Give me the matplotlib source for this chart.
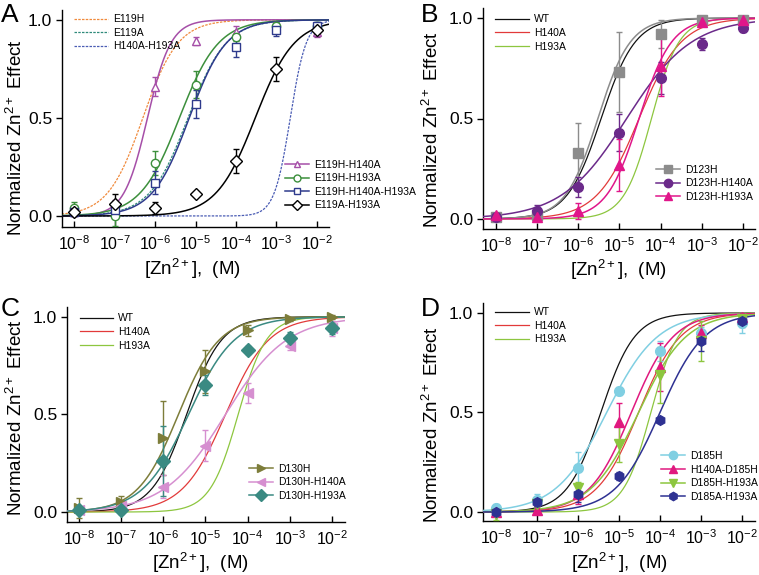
import numpy as np
import matplotlib
matplotlib.use("Agg")
import matplotlib.pyplot as plt
from matplotlib.lines import Line2D

plt.rcParams['font.family'] = ['Liberation Sans', 'DejaVu Sans']
plt.rcParams['mathtext.fontset'] = 'custom'
plt.rcParams['mathtext.rm'] = 'Liberation Sans'
plt.rcParams['mathtext.it'] = 'Liberation Sans:italic'
plt.rcParams['mathtext.bf'] = 'Liberation Sans:bold'

# ---------------- data ----------------
conc_exp = [-8, -7, -6, -5, -4, -3, -2]          # log10 [Zn2+] (M)
tick_labels = [r'10$^{-8}$', r'10$^{-7}$', r'10$^{-6}$', r'10$^{-5}$',
               r'10$^{-4}$', r'10$^{-3}$', r'10$^{-2}$']

# Reference Hill fits (EC50 in M, Hill coefficient)
refA_names = ['E119H', 'E119A', 'H140A-H193A']
refA_ec50 = [5e-7, 6.5e-6, 2.2e-3]
refA_n = [1.0, 0.92, 2.2]
refA_colors = ['#f08a3c', '#2f8a7a', '#4a5cb4']

refWT_names = ['WT', 'H140A', 'H193A']
refWT_ec50 = [3.6e-6, 3.0e-5, 6.0e-5]
refWT_n = [1.05, 0.85, 1.3]
refWT_colors = ['#111111', '#e23a3a', '#8dc63f']

# Panel A
A_names = ['E119H-H140A', 'E119H-H193A', 'E119H-H140A-H193A', 'E119A-H193A']
A_y = [[0.02, 0.05, 0.66, 0.89, 0.94, 0.97, 0.94],
       [0.04, 0.00, 0.27, 0.67, 0.91, 0.97, 0.97],
       [0.02, 0.03, 0.17, 0.57, 0.86, 0.95, 0.97],
       [0.02, 0.06, 0.04, 0.11, 0.28, 0.75, 0.95]]
A_err = [[0.02, 0.03, 0.05, 0.02, 0.03, 0.02, 0.03],
         [0.03, 0.05, 0.06, 0.07, 0.02, 0.02, 0.02],
         [0.02, 0.03, 0.06, 0.07, 0.05, 0.03, 0.02],
         [0.01, 0.05, 0.03, 0.01, 0.06, 0.06, 0.03]]
A_ec50 = [6.5e-7, 4.0e-6, 7.0e-6, 3.0e-4]
A_n = [1.5, 0.9, 0.95, 0.9]
A_colors = ['#a64fa8', '#3c8f3c', '#2e3a8c', '#000000']
A_markers = ['^', 'o', 's', 'D']

# Panel B
B_names = ['D123H', 'D123H-H140A', 'D123H-H193A']
B_y = [[0.01, 0.02, 0.33, 0.73, 0.92, 0.99, 0.99],
       [0.01, 0.04, 0.16, 0.43, 0.70, 0.87, 0.95],
       [0.02, 0.01, 0.04, 0.27, 0.76, 0.98, 0.99]]
B_err = [[0.01, 0.02, 0.15, 0.20, 0.07, 0.01, 0.01],
         [0.01, 0.03, 0.05, 0.09, 0.08, 0.03, 0.02],
         [0.01, 0.02, 0.04, 0.13, 0.15, 0.01, 0.01]]
B_ec50 = [3.0e-6, 1.5e-5, 3.0e-5]
B_n = [1.1, 0.55, 1.1]
B_colors = ['#8c8c8c', '#6b2a8a', '#e0168a']
B_markers = ['s', 'o', '^']

# Panel C
C_names = ['D130H', 'D130H-H140A', 'D130H-H193A']
C_y = [[0.02, 0.05, 0.38, 0.72, 0.93, 0.99, 1.00],
       [0.01, 0.03, 0.13, 0.34, 0.61, 0.85, 0.94],
       [0.01, 0.01, 0.26, 0.65, 0.83, 0.89, 0.94]]
C_err = [[0.05, 0.03, 0.19, 0.11, 0.03, 0.01, 0.01],
         [0.01, 0.02, 0.06, 0.08, 0.05, 0.02, 0.04],
         [0.01, 0.02, 0.18, 0.05, 0.02, 0.03, 0.03]]
C_ec50 = [2.3e-6, 3.0e-5, 4.0e-6]
C_n = [0.9, 0.6, 0.8]
C_colors = ['#7d7d3a', '#d68fd0', '#3a8a82']
C_markers = ['>', '<', 'D']

# Panel D
D_names = ['D185H', 'H140A-D185H', 'D185H-H193A', 'D185A-H193A']
D_y = [[0.02, 0.06, 0.22, 0.61, 0.81, 0.90, 0.95],
       [0.00, 0.01, 0.09, 0.45, 0.73, 0.90, 0.98],
       [-0.01, 0.04, 0.12, 0.34, 0.69, 0.86, 0.97],
       [0.00, 0.05, 0.09, 0.18, 0.46, 0.86, 0.96]]
D_err = [[0.02, 0.03, 0.08, 0.02, 0.05, 0.03, 0.05],
         [0.01, 0.02, 0.05, 0.10, 0.12, 0.04, 0.02],
         [0.03, 0.02, 0.03, 0.09, 0.14, 0.10, 0.02],
         [0.01, 0.02, 0.04, 0.02, 0.01, 0.05, 0.03]]
D_ec50 = [5.0e-6, 2.0e-5, 3.0e-5, 1.0e-4]
D_n = [0.7, 0.85, 0.75, 0.8]
D_colors = ['#80cfe2', '#e0197f', '#8dc63f', '#2e3192']
D_markers = ['o', '^', 'v', 'h']

# ---------------- figure ----------------
W, H = 759, 575
fig = plt.figure(figsize=(W / 100, H / 100), dpi=100)


def fx(px):
    return px / W


def fy(py):
    return 1 - py / H


def hill(x, ec50, n):
    return 1.0 / (1.0 + (ec50 / x) ** n)


panels = {
    'A': dict(box=(62, 10, 329, 227), xl=(-8.3, -1.7), yl=(-0.056, 1.05),
              letter=(1, 3), ylab=(16, 138), xlab=(192, 269)),
    'B': dict(box=(483, 8, 755, 229), xl=(-8.31, -1.71), yl=(-0.05, 1.05),
              letter=(421, 3), ylab=(432, 130), xlab=(618, 270)),
    'C': dict(box=(67, 307, 345, 522), xl=(-8.28, -1.69), yl=(-0.051, 1.05),
              letter=(1, 297), ylab=(16, 418), xlab=(200, 563)),
    'D': dict(box=(483, 303, 755, 521), xl=(-8.32, -1.68), yl=(-0.045, 1.05),
              letter=(421, 297), ylab=(432, 425), xlab=(619, 563)),
}

xfit_exp = np.linspace(-8.4, -1.6, 400)
xfit = 10.0 ** xfit_exp
xpts = 10.0 ** np.array(conc_exp, dtype=float)

axes = {}
for key, p in panels.items():
    l, t, r, b = p['box']
    ax = fig.add_axes([fx(l), fy(b), fx(r) - fx(l), (b - t) / H])
    ax.set_xscale('log')
    ax.set_xlim(10 ** p['xl'][0], 10 ** p['xl'][1])
    ax.set_ylim(*p['yl'])
    ax.set_xticks(xpts)
    ax.set_xticklabels(tick_labels)
    ax.xaxis.set_minor_locator(matplotlib.ticker.NullLocator())
    ax.set_yticks([0.0, 0.5, 1.0])
    ax.set_yticklabels(['0.0', '0.5', '1.0'])
    ax.tick_params(axis='x', direction='in', length=4, width=1, labelsize=11.5, pad=5)
    ax.tick_params(axis='y', direction='out', length=4, width=1, labelsize=12.5, pad=3)
    for s in ['top', 'right']:
        ax.spines[s].set_visible(False)
    for s in ['left', 'bottom']:
        ax.spines[s].set_linewidth(1.0)
    fig.text(fx(p['letter'][0]), fy(p['letter'][1]), key, fontsize=19,
             ha='left', va='top')
    fig.text(fx(p['ylab'][0]), fy(p['ylab'][1]), 'Normalized Zn$^{2+}$ Effect',
             fontsize=13.5, rotation=90, ha='center', va='center')
    fig.text(fx(p['xlab'][0]), fy(p['xlab'][1]), '[Zn$^{2+}$],  (M)',
             fontsize=13.5, ha='center', va='center')
    axes[key] = ax


def draw_refs(ax, names, ec50s, ns, colors, ls):
    handles = []
    for nm, e, n, c in zip(names, ec50s, ns, colors):
        ax.plot(xfit, hill(xfit, e, n), color=c, lw=0.9, ls=ls, zorder=2)
        handles.append(Line2D([], [], color=c, lw=0.9, ls=ls, label=nm))
    return handles


def draw_series(ax, names, ys, errs, ec50s, ns, colors, markers, open_mk, ms):
    handles = []
    for nm, y, er, e, n, c, m in zip(names, ys, errs, ec50s, ns, colors, markers):
        ax.plot(xfit, hill(xfit, e, n), color=c, lw=1.1, zorder=3)
        fc = 'white' if open_mk else c
        ax.errorbar(xpts, y, yerr=er, fmt='none', ecolor=c, elinewidth=1.0,
                    capsize=2.5, capthick=1.0, zorder=4)
        ax.plot(xpts, y, ls='none', marker=m, ms=ms, mfc=fc, mec=c, mew=1.0, zorder=5)
        handles.append(Line2D([], [], color=c, lw=1.1, marker=m, ms=ms - 1,
                              mfc=fc, mec=c, mew=1.0, label=nm))
    return handles


def add_legends(ax, h1, h2, anchor1, anchor2):
    leg1 = ax.legend(handles=h1, loc='upper left', bbox_to_anchor=anchor1,
                     frameon=False, fontsize=7.5, handlelength=3.2, handletextpad=0.5,
                     labelspacing=0.35, borderaxespad=0)
    ax.add_artist(leg1)
    ax.legend(handles=h2, loc='upper left', bbox_to_anchor=anchor2,
              frameon=False, fontsize=7.5, handlelength=2.3, handletextpad=0.5,
              labelspacing=0.35, borderaxespad=0)


# Panel A
ax = axes['A']
h1 = draw_refs(ax, refA_names, refA_ec50, refA_n, refA_colors, (0, (2, 1)))
h2 = draw_series(ax, A_names, A_y, A_err, A_ec50, A_n, A_colors, A_markers, True, 6)
add_legends(ax, h1, h2, (0.03, 1.0), (0.82, 0.33))

# Panel B
ax = axes['B']
h1 = draw_refs(ax, refWT_names, refWT_ec50, refWT_n, refWT_colors, '-')
h2 = draw_series(ax, B_names, B_y, B_err, B_ec50, B_n, B_colors, B_markers, False, 7)
add_legends(ax, h1, h2, (0.03, 0.99), (0.62, 0.31))

# Panel C
ax = axes['C']
h1 = draw_refs(ax, refWT_names, refWT_ec50, refWT_n, refWT_colors, '-')
h2 = draw_series(ax, C_names, C_y, C_err, C_ec50, C_n, C_colors, C_markers, False, 7)
add_legends(ax, h1, h2, (0.03, 0.99), (0.64, 0.29))

# Panel D
ax = axes['D']
h1 = draw_refs(ax, refWT_names, refWT_ec50, refWT_n, refWT_colors, '-')
h2 = draw_series(ax, D_names, D_y, D_err, D_ec50, D_n, D_colors, D_markers, False, 7)
add_legends(ax, h1, h2, (0.03, 1.0), (0.64, 0.34))

fig.savefig('out.png', dpi=100)
